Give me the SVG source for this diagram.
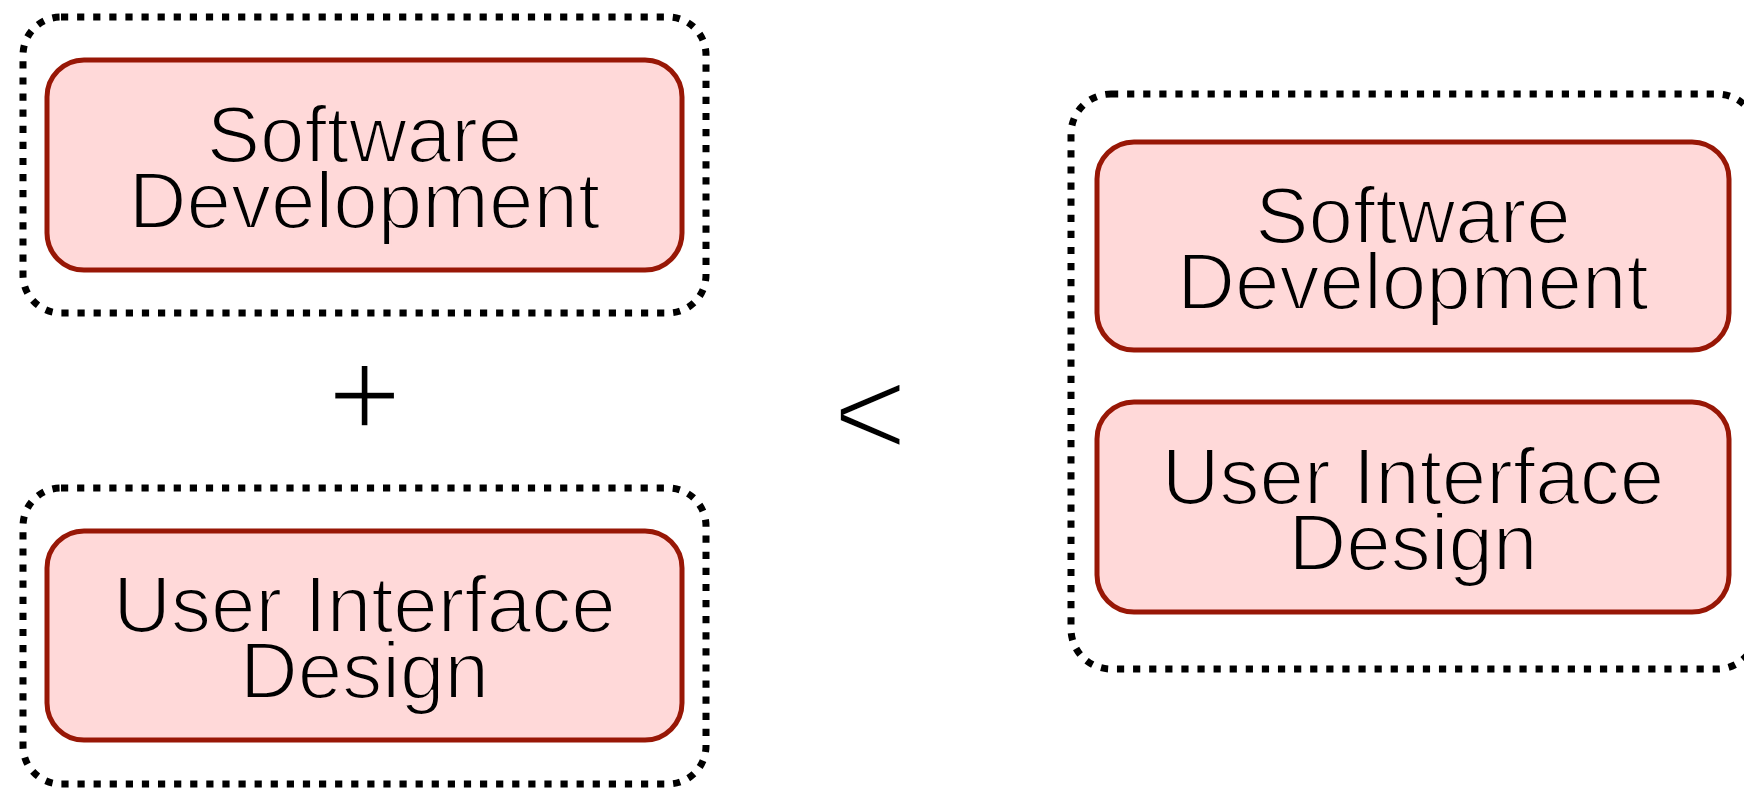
<svg xmlns="http://www.w3.org/2000/svg" width="1744" height="789" viewBox="0 0 1744 789">
  <style>
    .group { fill: none; stroke: #000; stroke-width: 7; stroke-dasharray: 7.2 8.9; }
    .box { fill: #ffd9d9; stroke: #981706; stroke-width: 5; }
    .label { font-family: "Liberation Sans", Arial, sans-serif; font-size: 80px; fill: #000; text-anchor: middle; stroke: #ffd9d9; stroke-width: 2.2; paint-order: fill; }
    .op { font-family: "Liberation Sans", Arial, sans-serif; font-size: 128px; fill: #000; text-anchor: middle; stroke: #fff; stroke-width: 3.5; paint-order: fill; }
  </style>

  <!-- left side: two separate groups -->
  <g id="left-dev-group">
    <rect class="group" x="23" y="17" width="683" height="296" rx="38" ry="38"/>
  </g>
  <g id="left-dev">
    <rect class="box" x="47" y="60" width="635" height="210" rx="37" ry="37"/>
    <text class="label" x="364.5" y="162">Software<tspan x="364.5" y="228">Development</tspan></text>
  </g>

  <g id="plus">
    <text class="op" x="364.5" y="438">+</text>
  </g>

  <g id="left-ui-group">
    <rect class="group" x="23" y="488" width="683" height="296" rx="38" ry="38"/>
  </g>
  <g id="left-ui">
    <rect class="box" x="47" y="531" width="635" height="209" rx="37" ry="37"/>
    <text class="label" x="364.5" y="632">User Interface<tspan x="364.5" y="698">Design</tspan></text>
  </g>

  <g id="less-than">
    <text class="op" x="870" y="457">&lt;</text>
  </g>

  <!-- right side: one combined group -->
  <g id="right-group">
    <rect class="group" x="1071" y="94" width="686" height="575" rx="40" ry="40"/>
  </g>
  <g id="right-dev">
    <rect class="box" x="1097" y="142" width="632" height="208" rx="37" ry="37"/>
    <text class="label" x="1413" y="243">Software<tspan x="1413" y="309">Development</tspan></text>
  </g>
  <g id="right-ui">
    <rect class="box" x="1097" y="402" width="632" height="210" rx="37" ry="37"/>
    <text class="label" x="1413" y="504">User Interface<tspan x="1413" y="570">Design</tspan></text>
  </g>

  <g id="connectors"></g>
</svg>
